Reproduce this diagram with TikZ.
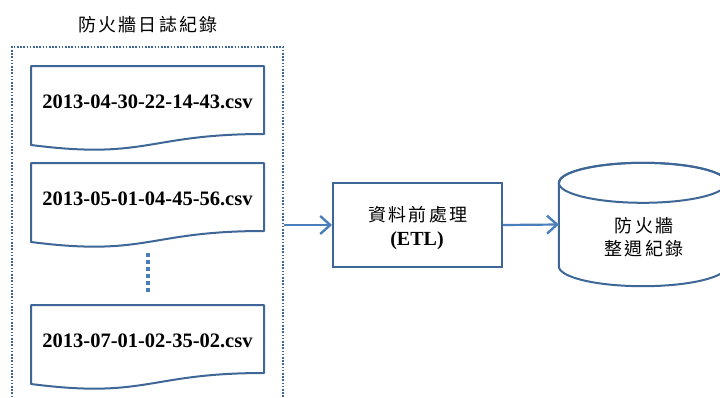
\documentclass[tikz,border=0pt]{standalone}
\usepackage{fontspec}
\setmainfont{Liberation Serif}
\newfontfamily\cjk[LetterSpace=12]{Noto Sans CJK TC}
\usetikzlibrary{arrows.meta}
\definecolor{shapeblue}{HTML}{3E6797}
\definecolor{arrowblue}{HTML}{4A7EBB}
\tikzset{
  docshape/.style={draw=shapeblue, line width=2pt, fill=white, line join=round},
  doctext/.style={font=\fontsize{20.5}{24}\selectfont\bfseries, inner sep=0pt},
  cjktext/.style={font=\fontsize{18}{23}\selectfont\cjk, inner sep=0pt, align=center},
  flowarrow/.style={draw=arrowblue, line width=2.2pt, -{Straight Barb[length=10pt,width=18pt,line width=2.4pt]}},
  framebox/.style={draw=shapeblue, line width=2pt, dash pattern=on 1.6pt off 1.6pt},
  procbox/.style={draw=shapeblue, line width=2pt, fill=white, minimum width=169pt, minimum height=84pt, inner sep=0pt, align=center},
}
\begin{document}
\begin{tikzpicture}[x=1pt, y=-1pt]
\useasboundingbox (0,0) rectangle (720,397);
\clip (0,0) rectangle (720,397);
% title
\node[cjktext] (title) at (148,25) {防火牆日誌紀錄};
% dotted frame
\node[framebox, minimum width=271pt, minimum height=383pt, inner sep=0pt] (frame) at (147.5,238.5) {};
% documents
\foreach \T/\nm/\txt in {66/doca/2013-04-30-22-14-43.csv, 163/docb/2013-05-01-04-45-56.csv, 305/docc/2013-07-01-02-35-02.csv}{
  \draw[docshape] (31,\T) -- (264,\T) -- (264,\T+68)
     .. controls (147.5,\T+68) and (147.5,\T+94) .. (31,\T+79) -- cycle;
  \node[doctext] (\nm) at (147.5,\T+36) {\txt};
}
% vertical dots
\coordinate (dtop) at (148,253);
\coordinate (dbot) at (148,294);
\draw[arrowblue, line width=3.5pt, dash pattern=on 3.5pt off 3.5pt] (dtop) -- (dbot);
% ETL box
\node[procbox] (etl) at (417.5,225) {};
\node[cjktext] (etltxt) at (418,215) {資料前處理};
\node[font=\fontsize{20}{24}\selectfont\bfseries, inner sep=0pt] (etllbl) at (417,241) {(ETL)};
% cylinder
\node[minimum width=168pt, minimum height=83pt, inner sep=0pt] (db) at (643,224.5) {};
\draw[docshape] (db.north west) -- (db.south west)
   arc[start angle=180, end angle=0, x radius=84, y radius=20]
   -- (db.north east)
   arc[start angle=0, end angle=-180, x radius=84, y radius=20] -- cycle;
\draw[docshape, fill=none] (db.north west) arc[start angle=180, end angle=-180, x radius=84, y radius=20];
\node[cjktext] (dbtxt) at (644,237) {防火牆\\整週紀錄};
% arrows
\draw[flowarrow] (frame.east |- etl.west) -- (etl.west);
\draw[flowarrow] (etl.east) -- (db.west);
\end{tikzpicture}
\end{document}
